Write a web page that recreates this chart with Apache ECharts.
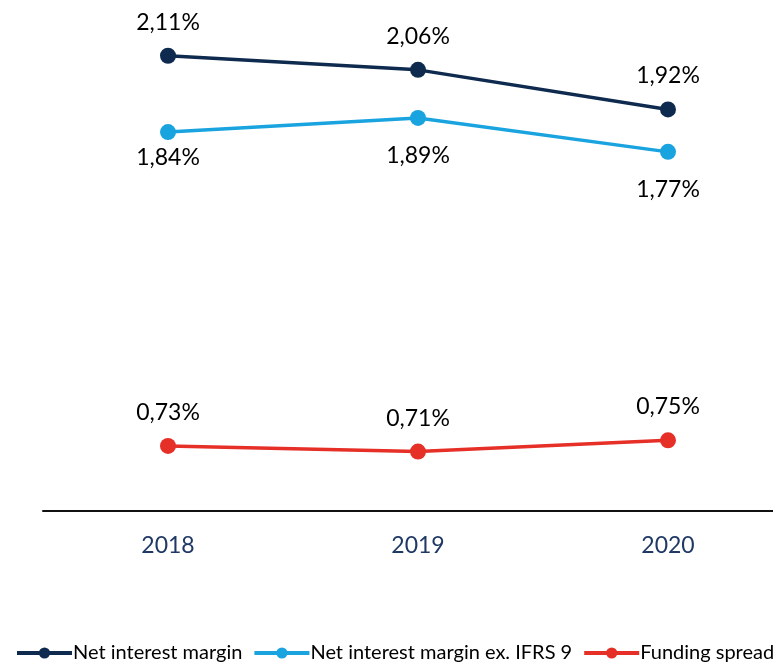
<!DOCTYPE html>
<html>
<head>
<meta charset="utf-8">
<script src="https://cdn.jsdelivr.net/npm/echarts@6/dist/echarts.min.js"></script>
<style>
  html, body { margin: 0; padding: 0; background: #fff; }
  #chart { width: 773px; height: 664px; }
</style>
</head>
<body>
<div id="chart"></div>
<script>
'use strict';
// data
var years = ['2018', '2019', '2020'];
var nim = [2.11, 2.06, 1.92];
var nimExIfrs = [1.84, 1.89, 1.77];
var fundingSpread = [0.73, 0.71, 0.75];
// label distance for the light blue series (first one sits closer)
var exLabelGap = [6, 18, 18];

var FONT = 'Lato, "Open Sans", sans-serif';

function pct(p) {
	return p.value.toFixed(2).replace('.', ',') + '%';
}

function withLabels(values, pos, gaps) {
	return values.map(function(v, i) {
		return {
			value: v,
			label: { position: pos, distance: gaps ? gaps[i] : 14 }
		};
	});
}

function lineSeries(name, color, data) {
	return {
		name: name,
		type: 'line',
		data: data,
		color: color,
		symbol: 'circle',
		symbolSize: 16,
		lineStyle: { width: 3.5 },
		label: { show: true, formatter: pct, fontSize: 23, color: '#000', fontFamily: FONT }
	};
}

var chart = echarts.init(document.getElementById('chart'));
chart.setOption({
	animation: false,
	textStyle: { fontFamily: FONT },
	grid: { left: 43, width: 750, top: 2, bottom: 153, outerBoundsMode: 'none', containLabel: false },
	legend: {
		left: 10,
		bottom: -4,
		width: 1000,
		itemWidth: 55,
		itemHeight: 14,
		itemGap: 10,
		lineStyle: { width: 4 },
		textStyle: { fontFamily: FONT, fontSize: 20, color: '#000', padding: [0, 0, 0, -4] },
		data: ['Net interest margin', 'Net interest margin ex. IFRS 9', 'Funding spread']
	},
	xAxis: {
		type: 'category',
		data: years,
		boundaryGap: true,
		axisLine: { lineStyle: { color: '#111', width: 2 } },
		axisTick: { show: false },
		axisLabel: { color: '#1f3864', fontSize: 23, margin: 23, fontFamily: FONT }
	},
	yAxis: {
		type: 'value',
		min: 0.5,
		max: 2.3,
		show: false,
		splitLine: { show: false }
	},
	series: [
		lineSeries('Net interest margin', '#0e2a4e', withLabels(nim, 'top')),
		lineSeries('Net interest margin ex. IFRS 9', '#19a3df', withLabels(nimExIfrs, 'bottom', exLabelGap)),
		lineSeries('Funding spread', '#e52f27', withLabels(fundingSpread, 'top'))
	]
});
</script>
</body>
</html>
